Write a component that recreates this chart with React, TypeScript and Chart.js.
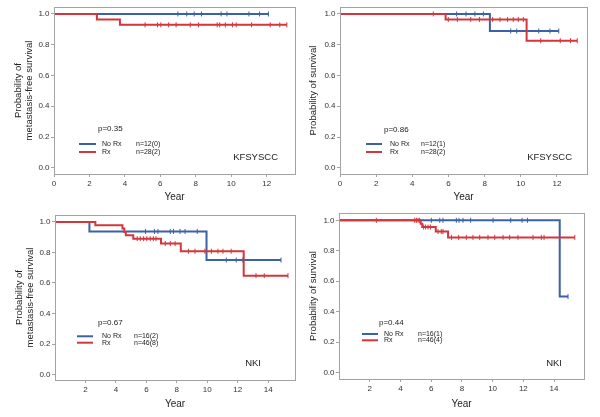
import React, { useEffect, useRef } from "react";
import { Chart, registerables } from "chart.js";

Chart.register(...registerables);

const FONT = 'Arial, "Liberation Sans", Helvetica, sans-serif';
const BLUE = "#3b61a7";
const RED = "#d3363d";
const AXIS = "#a3a3a3";
const TEXT = "#333333";

// ---------- shared tick labels ----------
const yTicks = [0, 0.2, 0.4, 0.6, 0.8, 1.0];
const xTicksTop = [0, 2, 4, 6, 8, 10, 12];
const xTicksBottom = [2, 4, 6, 8, 10, 12, 14];
const xTitle = "Year";
const groupNames = ["No Rx", "Rx"];

// ---------- Panel A: KFSYSCC, metastasis-free survival ----------
const aNoRxEvents: number[] = [];
const aNoRxSurv: number[] = [];
const aNoRxEnd = 12.1;
const aNoRxCensor = [6.99, 7.49, 7.91, 8.32, 9.43, 9.76, 11.0, 11.6, 12.1];
const aRxEvents = [2.42, 3.72];
const aRxSurv = [0.964, 0.929];
const aRxEnd = 13.14;
const aRxCensor = [5.14, 5.84, 6.03, 6.47, 6.89, 7.69, 8.15, 9.21, 9.35, 9.67, 10.07, 10.28, 11.15, 12.2, 12.74, 13.14];
const aText = { p: "p=0.35", nNoRx: "n=12(0)", nRx: "n=28(2)", cohort: "KFSYSCC" };
const aYTitle = ["Probability of", "metastasis-free survival"];

// ---------- Panel B: KFSYSCC, overall survival ----------
const bNoRxEvents = [8.29];
const bNoRxSurv = [0.889];
const bNoRxEnd = 12.1;
const bNoRxCensor = [6.45, 6.97, 7.46, 7.93, 9.44, 9.77, 10.99, 11.61, 12.1];
const bRxEvents = [5.84, 10.32];
const bRxSurv = [0.964, 0.826];
const bRxEnd = 13.12;
const bRxCensor = [5.16, 5.99, 6.49, 7.23, 7.71, 8.44, 8.85, 9.27, 9.58, 9.86, 10.14, 11.1, 12.18, 12.75, 13.12];
const bText = { p: "p=0.86", nNoRx: "n=12(1)", nRx: "n=28(2)", cohort: "KFSYSCC" };
const bYTitle = "Probability of survival";

// ---------- Panel C: NKI, metastasis-free survival ----------
const cNoRxEvents = [2.26, 9.95];
const cNoRxSurv = [0.9375, 0.75];
const cNoRxEnd = 14.84;
const cNoRxCensor = [5.94, 6.53, 6.76, 7.57, 7.78, 8.21, 8.54, 9.34, 11.25, 11.9, 12.33, 14.84];
const cRxEvents = [2.65, 4.43, 4.55, 4.65, 5.14, 6.96, 8.26, 12.39];
const cRxSurv = [0.978, 0.956, 0.934, 0.912, 0.89, 0.858, 0.808, 0.648];
const cRxEnd = 15.3;
const cRxCensor = [5.4, 5.6, 5.82, 6.03, 6.25, 6.46, 6.63, 7.24, 7.57, 7.89, 8.76, 9.19, 9.84, 10.27, 10.7, 11.03, 11.57, 13.2, 13.74, 15.3];
const cText = { p: "p=0.67", nNoRx: "n=16(2)", nRx: "n=46(8)", cohort: "NKI" };
const cYTitle = ["Probability of", "metastasis-free survival"];

// ---------- Panel D: NKI, overall survival ----------
const dNoRxEvents = [14.37];
const dNoRxSurv = [0.5];
const dNoRxEnd = 14.91;
const dNoRxCensor = [5.25, 6.01, 6.56, 6.77, 7.64, 7.81, 8.07, 8.57, 10.03, 11.18, 11.92, 12.27, 14.91];
const dRxEvents = [5.32, 5.42, 6.3, 7.1];
const dRxSurv = [0.978, 0.956, 0.926, 0.888];
const dRxEnd = 15.35;
const dRxCensor = [2.43, 4.93, 5.04, 5.15, 5.51, 5.64, 5.8, 5.95, 6.45, 6.66, 6.77, 7.32, 7.79, 8.29, 8.72, 9.16, 9.7, 10.14, 10.68, 11.11, 11.65, 12.63, 13.17, 13.35, 15.35];
const dText = { p: "p=0.44", nNoRx: "n=16(1)", nRx: "n=46(4)", cohort: "NKI" };
const dYTitle = "Probability of survival";

// ---------- helpers ----------
function kmPoints(events: number[], surv: number[], end: number) {
  const pts = [{ x: 0, y: 1 }];
  events.forEach((t, i) => pts.push({ x: t, y: surv[i] }));
  pts.push({ x: end, y: surv.length ? surv[surv.length - 1] : 1 });
  return pts;
}
function survAt(events: number[], surv: number[], t: number) {
  let s = 1;
  events.forEach((e, i) => {
    if (e <= t) s = surv[i];
  });
  return s;
}
function censorPoints(events: number[], surv: number[], times: number[]) {
  return times.map((t) => ({ x: t, y: survAt(events, surv, t) }));
}

type Group = { events: number[]; surv: number[]; end: number; censor: number[] };
type Layout = {
  left: number; top: number; w: number; h: number;
  padTop: number; padRight: number; yAxisW: number; xAxisH: number;
  xMax: number; yMin: number; yMax: number; yTitlePad: number; xTitlePad: number;
  lg: { pX: number; pY: number; x1: number; x2: number; r1: number; r2: number; labelX: number; nX: number; cohortRight: number; cohortY: number };
};
type PanelCfg = {
  noRx: Group; rx: Group; text: { p: string; nNoRx: string; nRx: string; cohort: string };
  yTitle: string | string[]; xTicks: number[]; layout: Layout;
};

const panels: PanelCfg[] = [
  {
    noRx: { events: aNoRxEvents, surv: aNoRxSurv, end: aNoRxEnd, censor: aNoRxCensor },
    rx: { events: aRxEvents, surv: aRxSurv, end: aRxEnd, censor: aRxCensor },
    text: aText, yTitle: aYTitle, xTicks: xTicksTop,
    layout: {
      left: 0, top: 0, w: 300, h: 208, padTop: 7, padRight: 1, yAxisW: 54, xAxisH: 34,
      xMax: 13.6, yMin: -0.04, yMax: 1.045, yTitlePad: 12.3, xTitlePad: 5,
      lg: { pX: 98, pY: 129, x1: 79, x2: 96, r1: 144, r2: 152, labelX: 102, nX: 136, cohortRight: 278, cohortY: 157 },
    },
  },
  {
    noRx: { events: bNoRxEvents, surv: bNoRxSurv, end: bNoRxEnd, censor: bNoRxCensor },
    rx: { events: bRxEvents, surv: bRxSurv, end: bRxEnd, censor: bRxCensor },
    text: bText, yTitle: bYTitle, xTicks: xTicksTop,
    layout: {
      left: 300, top: 0, w: 300, h: 208, padTop: 7, padRight: 13, yAxisW: 40, xAxisH: 34,
      xMax: 13.66, yMin: -0.04, yMax: 1.045, yTitlePad: 7.3, xTitlePad: 5,
      lg: { pX: 84, pY: 130, x1: 66, x2: 82, r1: 144, r2: 152, labelX: 90, nX: 121, cohortRight: 272, cohortY: 157 },
    },
  },
  {
    noRx: { events: cNoRxEvents, surv: cNoRxSurv, end: cNoRxEnd, censor: cNoRxCensor },
    rx: { events: cRxEvents, surv: cRxSurv, end: cRxEnd, censor: cRxCensor },
    text: cText, yTitle: cYTitle, xTicks: xTicksBottom,
    layout: {
      left: 0, top: 208, w: 300, h: 209, padTop: 7, padRight: 2, yAxisW: 55, xAxisH: 37,
      xMax: 15.76, yMin: -0.035, yMax: 1.045, yTitlePad: 13.3, xTitlePad: 6.7,
      lg: { pX: 98, pY: 115, x1: 77, x2: 93, r1: 128.3, r2: 134.7, labelX: 102, nX: 134, cohortRight: 261, cohortY: 155.7 },
    },
  },
  {
    noRx: { events: dNoRxEvents, surv: dNoRxSurv, end: dNoRxEnd, censor: dNoRxCensor },
    rx: { events: dRxEvents, surv: dRxSurv, end: dRxEnd, censor: dRxCensor },
    text: dText, yTitle: dYTitle, xTicks: xTicksBottom,
    layout: {
      left: 300, top: 208, w: 300, h: 209, padTop: 5, padRight: 16, yAxisW: 39, xAxisH: 38,
      xMax: 15.95, yMin: -0.041, yMax: 1.048, yTitlePad: 7.6, xTitlePad: 6.7,
      lg: { pX: 79, pY: 114.3, x1: 62, x2: 78, r1: 126, r2: 132.3, labelX: 84, nX: 118, cohortRight: 262, cohortY: 155.7 },
    },
  },
];

function Panel({ cfg }: { cfg: PanelCfg }) {
  const ref = useRef<HTMLCanvasElement | null>(null);
  useEffect(() => {
    if (!ref.current) return;
    const L = cfg.layout;
    const curve = (g: Group, color: string) => ({
      data: kmPoints(g.events, g.surv, g.end),
      borderColor: color,
      borderWidth: 2,
      pointRadius: 0,
      stepped: true,
      fill: false,
      tension: 0,
    });
    const marks = (g: Group, color: string) => ({
      data: censorPoints(g.events, g.surv, g.censor),
      showLine: false,
      borderColor: color,
      backgroundColor: color,
      pointStyle: "line",
      pointRotation: 90,
      pointRadius: 2.5,
      pointBorderWidth: 1,
    });
    const overlay = {
      id: "kmOverlay",
      afterDraw(chart: any) {
        const { ctx, chartArea: a } = chart;
        ctx.save();
        ctx.strokeStyle = AXIS;
        ctx.lineWidth = 1;
        ctx.strokeRect(Math.round(a.left) + 0.5, Math.round(a.top) + 0.5, Math.round(a.right - a.left), Math.round(a.bottom - a.top));
        const lg = L.lg;
        ctx.fillStyle = "#222";
        ctx.textBaseline = "middle";
        ctx.textAlign = "left";
        ctx.font = `8px ${FONT}`;
        ctx.fillText(cfg.text.p, lg.pX, lg.pY);
        ctx.lineWidth = 2;
        ctx.strokeStyle = BLUE;
        ctx.beginPath(); ctx.moveTo(lg.x1, lg.r1); ctx.lineTo(lg.x2, lg.r1); ctx.stroke();
        ctx.strokeStyle = RED;
        ctx.beginPath(); ctx.moveTo(lg.x1, lg.r2); ctx.lineTo(lg.x2, lg.r2); ctx.stroke();
        ctx.font = `7px ${FONT}`;
        ctx.fillText(groupNames[0], lg.labelX, lg.r1);
        ctx.fillText(groupNames[1], lg.labelX, lg.r2);
        ctx.fillText(cfg.text.nNoRx, lg.nX, lg.r1);
        ctx.fillText(cfg.text.nRx, lg.nX, lg.r2);
        ctx.font = `9.5px ${FONT}`;
        ctx.textAlign = "right";
        ctx.fillText(cfg.text.cohort, lg.cohortRight, lg.cohortY);
        ctx.restore();
      },
    };
    const chart = new Chart(ref.current, {
      type: "line",
      data: {
        datasets: [
          curve(cfg.rx, RED),
          marks(cfg.rx, RED),
          curve(cfg.noRx, BLUE),
          marks(cfg.noRx, BLUE),
        ] as any,
      },
      options: {
        responsive: false,
        animation: false,
        devicePixelRatio: 1,
        events: [],
        layout: { padding: { top: L.padTop, right: L.padRight, left: 0, bottom: 0 } },
        plugins: { legend: { display: false }, tooltip: { enabled: false } },
        scales: {
          x: {
            type: "linear",
            min: 0,
            max: L.xMax,
            afterBuildTicks: (s: any) => {
              s.ticks = cfg.xTicks.map((v) => ({ value: v }));
            },
            afterFit: (s: any) => {
              s.height = L.xAxisH;
              s.paddingLeft = 0;
              s.paddingRight = 0;
            },
            ticks: {
              font: { family: FONT, size: 8 },
              color: TEXT,
              padding: 2,
              maxRotation: 0,
              autoSkip: false,
              callback: (v: any) => String(v),
            },
            grid: { display: true, drawOnChartArea: false, drawTicks: true, tickLength: 3, color: AXIS },
            border: { display: true, color: AXIS },
            title: {
              display: true,
              text: xTitle,
              font: { family: FONT, size: 10 },
              color: "#222",
              padding: { top: 0, bottom: L.xTitlePad },
            },
          },
          y: {
            type: "linear",
            min: L.yMin,
            max: L.yMax,
            afterBuildTicks: (s: any) => {
              s.ticks = yTicks.map((v) => ({ value: v }));
            },
            afterFit: (s: any) => {
              s.width = L.yAxisW;
              s.paddingTop = 0;
              s.paddingBottom = 0;
            },
            ticks: {
              font: { family: FONT, size: 8 },
              color: TEXT,
              padding: 1.5,
              callback: (v: any) => Number(v).toFixed(1),
            },
            grid: { display: true, drawOnChartArea: false, drawTicks: true, tickLength: 3, color: AXIS },
            border: { display: true, color: AXIS },
            title: {
              display: true,
              text: cfg.yTitle,
              font: { family: FONT, size: 9.5 },
              color: "#222",
              padding: { top: L.yTitlePad, bottom: 0 },
            },
          },
        },
      } as any,
      plugins: [overlay],
    });
    return () => chart.destroy();
  }, [cfg]);
  const L = cfg.layout;
  return (
    <canvas
      ref={ref}
      width={L.w}
      height={L.h}
      style={{ position: "absolute", left: L.left, top: L.top, width: L.w, height: L.h }}
    />
  );
}

export default function App() {
  return (
    <div style={{ position: "fixed", left: 0, top: 0, width: 600, height: 417, background: "#fff" }}>
      {panels.map((p, i) => (
        <Panel key={i} cfg={p} />
      ))}
    </div>
  );
}
